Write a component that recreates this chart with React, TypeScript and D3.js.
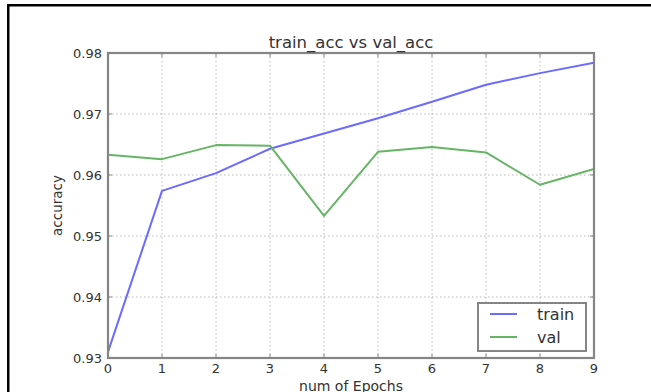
import React from "react";
import * as d3 from "d3";

const epochs = [0, 1, 2, 3, 4, 5, 6, 7, 8, 9];
const trainAcc = [0.931, 0.9574, 0.9603, 0.9643, 0.9668, 0.9693, 0.972, 0.9748, 0.9767, 0.9784];
const valAcc = [0.9633, 0.9626, 0.9649, 0.9648, 0.9533, 0.9638, 0.9646, 0.9637, 0.9584, 0.961];
const xTicks = [0, 1, 2, 3, 4, 5, 6, 7, 8, 9];
const yTicks = [0.93, 0.94, 0.95, 0.96, 0.97, 0.98];
const seriesNames = ["train", "val"];
const titleText = "train_acc vs val_acc";
const xLabel = "num of Epochs";
const yLabel = "accuracy";

const W = 651;
const H = 392;
const left = 108;
const right = 594;
const top = 53;
const bottom = 358;
const FONT = "'DejaVu Sans', sans-serif";
const colors = ["#6b6bff", "#66b566"];

export default function App() {
  const x = d3.scaleLinear().domain([0, 9]).range([left, right]);
  const y = d3.scaleLinear().domain([0.93, 0.98]).range([bottom, top]);
  const line = d3
    .line<number>()
    .x((_, i) => x(epochs[i]))
    .y((d) => y(d));
  const series = [trainAcc, valAcc];
  const frame = "#858585";

  return (
    <svg
      width={W}
      height={H}
      viewBox={`0 0 ${W} ${H}`}
      style={{ position: "fixed", left: 0, top: 0, background: "#fff" }}
    >
      <rect x={0} y={0} width={W} height={H} fill="#fff" />
      {/* outer black border */}
      <rect x={7} y={4} width={W - 7} height={2.5} fill="#000" />
      <rect x={7} y={4} width={2.5} height={H - 4} fill="#000" />

      <defs>
        <clipPath id="plotclip">
          <rect x={left} y={top} width={right - left} height={bottom - top} />
        </clipPath>
      </defs>

      {/* grid */}
      {xTicks.slice(1, -1).map((t) => (
        <line
          key={"gx" + t}
          x1={x(t)}
          x2={x(t)}
          y1={top}
          y2={bottom}
          stroke="#b8b8b8"
          strokeWidth={1}
          strokeDasharray="1.5,2.5"
        />
      ))}
      {yTicks.slice(1, -1).map((t) => (
        <line
          key={"gy" + t}
          x1={left}
          x2={right}
          y1={y(t)}
          y2={y(t)}
          stroke="#b8b8b8"
          strokeWidth={1}
          strokeDasharray="1.5,2.5"
        />
      ))}

      {/* lines */}
      <g clipPath="url(#plotclip)">
        {series.map((s, i) => (
          <path
            key={seriesNames[i]}
            d={line(s) || ""}
            fill="none"
            stroke={colors[i]}
            strokeWidth={2}
            strokeLinejoin="round"
          />
        ))}
      </g>

      {/* ticks inward */}
      {xTicks.map((t) => (
        <g key={"tx" + t}>
          <line x1={x(t)} x2={x(t)} y1={bottom} y2={bottom - 4} stroke={frame} strokeWidth={1} />
          <line x1={x(t)} x2={x(t)} y1={top} y2={top + 4} stroke={frame} strokeWidth={1} />
        </g>
      ))}
      {yTicks.map((t) => (
        <g key={"ty" + t}>
          <line x1={left} x2={left + 4} y1={y(t)} y2={y(t)} stroke={frame} strokeWidth={1} />
          <line x1={right} x2={right - 4} y1={y(t)} y2={y(t)} stroke={frame} strokeWidth={1} />
        </g>
      ))}

      {/* frame */}
      <rect
        x={left}
        y={top}
        width={right - left}
        height={bottom - top}
        fill="none"
        stroke={frame}
        strokeWidth={2.2}
      />

      {/* tick labels */}
      {xTicks.map((t) => (
        <text
          key={"lx" + t}
          x={x(t)}
          y={bottom + 15}
          textAnchor="middle"
          fontFamily={FONT}
          fontSize={13}
          fill="#333"
        >
          {t}
        </text>
      ))}
      {yTicks.map((t) => (
        <text
          key={"ly" + t}
          x={left - 6}
          y={y(t) + 4.5}
          textAnchor="end"
          fontFamily={FONT}
          fontSize={13}
          fill="#333"
        >
          {d3.format(".2f")(t)}
        </text>
      ))}

      {/* title */}
      <text
        x={(left + right) / 2}
        y={48}
        textAnchor="middle"
        fontFamily={FONT}
        fontSize={16.5}
        fill="#333"
      >
        {titleText}
      </text>

      {/* axis labels */}
      <text
        x={(left + right) / 2}
        y={391}
        textAnchor="middle"
        fontFamily={FONT}
        fontSize={14}
        fill="#333"
      >
        {xLabel}
      </text>
      <text
        transform={`translate(62, ${(top + bottom) / 2}) rotate(-90)`}
        textAnchor="middle"
        fontFamily={FONT}
        fontSize={13.5}
        fill="#333"
      >
        {yLabel}
      </text>

      {/* legend */}
      <rect x={478} y={303} width={108} height={48} fill="#fff" stroke={frame} strokeWidth={2} />
      {seriesNames.map((n, i) => (
        <g key={"lg" + n}>
          <line
            x1={490}
            x2={517}
            y1={314 + i * 23}
            y2={314 + i * 23}
            stroke={colors[i]}
            strokeWidth={2}
          />
          <text
            x={537}
            y={314 + i * 23 + 5.5}
            fontFamily={FONT}
            fontSize={16}
            fill="#333"
          >
            {n}
          </text>
        </g>
      ))}
    </svg>
  );
}
